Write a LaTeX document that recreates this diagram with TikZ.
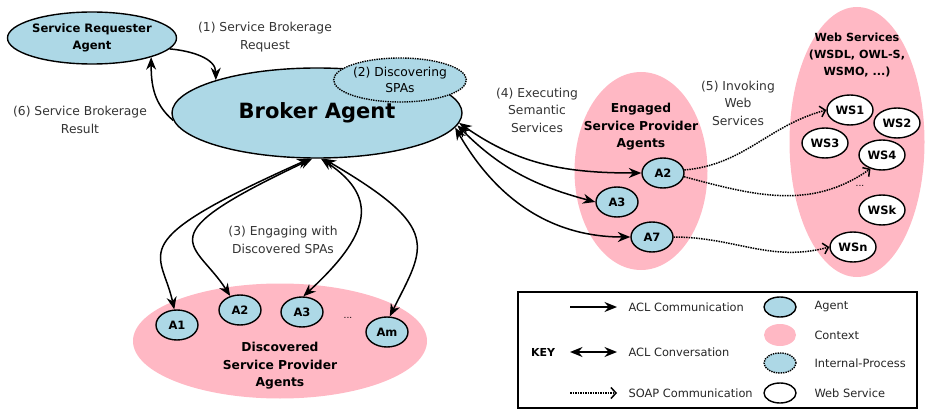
\documentclass[tikz,border=0pt]{standalone}
\usepackage{fontspec}
\setmainfont{DejaVu Sans}
\usetikzlibrary{shapes.geometric, arrows.meta}

\definecolor{agentblue}{RGB}{173,216,230}
\definecolor{ctxpink}{RGB}{255,184,196}

\tikzset{
  agent/.style={ellipse, draw, line width=1.4pt, fill=agentblue, inner sep=0pt,
    minimum width=42pt, minimum height=30pt, font=\bfseries\fontsize{11.5}{13}\selectfont},
  ws/.style={ellipse, draw, line width=1.4pt, fill=white, inner sep=0pt,
    minimum width=46pt, minimum height=30pt, font=\bfseries\fontsize{11.5}{13}\selectfont},
  context/.style={ellipse, fill=ctxpink, inner sep=0pt},
  ctxtext/.style={align=center, font=\bfseries\fontsize{12.3}{17.5}\selectfont},
  steplabel/.style={align=center, text=black!80, font=\fontsize{12.3}{17.5}\selectfont},
  keytext/.style={anchor=west, text=black!85, font=\fontsize{11.4}{13}\selectfont},
  acl/.style={-{Stealth[length=12.5pt,width=10pt]}, line width=1.5pt},
  aclconv/.style={{Stealth[length=12.5pt,width=10pt]}-{Stealth[length=12.5pt,width=10pt]}, line width=1.5pt},
  soap/.style={-{Straight Barb[length=5pt,width=11pt]}, line width=1.5pt, densely dotted},
}

\begin{document}
\begin{tikzpicture}[x=1pt, y=1pt]
  \useasboundingbox (0,0) rectangle (927,-409);

  % Context regions
  \node[context, minimum width=294pt, minimum height=115pt] (ctxD) at (280,-341) {};
  \node[context, minimum width=133pt, minimum height=198pt] (ctxE) at (641,-171) {};
  \node[context, minimum width=135pt, minimum height=270pt] (ctxW) at (857,-142) {};
  \node[ctxtext] (txtD) at (280,-366) {Discovered\\Service Provider\\Agents};
  \node[ctxtext] (txtE) at (641,-127) {Engaged\\Service Provider\\Agents};
  \node[ctxtext, font=\bfseries\fontsize{11.2}{17}\selectfont] (txtW) at (857,-55) {Web Services\\(WSDL, OWL-S,\\WSMO, ...)};

  % Requester and broker
  \node[ellipse, draw, line width=1.4pt, fill=agentblue, minimum width=165pt, minimum height=52pt,
    align=center, inner sep=0pt, font=\bfseries\fontsize{11.6}{17}\selectfont] (req) at (92,-38) {Service Requester\\Agent};
  \node[ellipse, draw, line width=1.4pt, fill=agentblue, minimum width=290pt, minimum height=90pt,
    inner sep=0pt, font=\bfseries\fontsize{21}{24}\selectfont] (broker) at (317,-113) {Broker Agent};
  \node[ellipse, draw, line width=1.4pt, densely dotted, fill=agentblue, minimum width=110pt, minimum height=44pt,
    align=center, inner sep=0pt, font=\fontsize{12.3}{16}\selectfont] (disc) at (400,-80) {(2) Discovering\\SPAs};

  % Discovered agents
  \node[agent] (dA1) at (177,-325) {A1};
  \node[agent] (dA2) at (240,-310) {A2};
  \node[agent] (dA3) at (302,-312) {A3};
  \node[agent] (dAm) at (387,-332) {Am};
  \node[font=\fontsize{9}{10}\selectfont] (dDots) at (348,-318) {...};

  % Engaged agents
  \node[agent] (eA2) at (663,-173) {A2};
  \node[agent] (eA3) at (617,-202) {A3};
  \node[agent] (eA7) at (652,-237) {A7};

  % Web services
  \node[ws] (ws1) at (850,-110) {WS1};
  \node[ws] (ws2) at (897,-123) {WS2};
  \node[ws] (ws3) at (825,-143) {WS3};
  \node[ws] (ws4) at (882,-155) {WS4};
  \node[font=\fontsize{9}{10}\selectfont] (wsDots) at (860,-186) {...};
  \node[ws] (wsk) at (882,-210) {WSk};
  \node[ws] (wsn) at (853,-247) {WSn};

  % Step labels
  \node[steplabel] (lbl1) at (265,-37) {(1) Service Brokerage\\Request};
  \node[steplabel] (lbl6) at (80,-120) {(6) Service Brokerage\\Result};
  \node[steplabel] (lbl3) at (283,-240) {(3) Engaging with\\Discovered SPAs};
  \node[steplabel] (lbl4) at (537,-110) {(4) Executing\\Semantic\\Services};
  \node[steplabel] (lbl5) at (738,-103) {(5) Invoking\\Web\\Services};

  % Request and result
  \draw[acl] (req.-8) to[out=-5, in=90] (broker.162);
  \draw[acl] (broker.183) to[out=140, in=-90] (req.-18);

  % Engaging discovered SPAs
  \draw[aclconv] (broker.-99) .. controls +(-190,-85) and +(-13,60) .. (dA1.100);
  \draw[aclconv] (broker.-96) .. controls +(-170,-80) and +(-35,55) .. (dA2.125);
  \draw[aclconv] (broker.-85) .. controls +(60,-40) and +(65,60) .. (dA3.85);
  \draw[aclconv] (broker.-82) .. controls +(120,-70) and +(35,70) .. (dAm.80);

  % Executing semantic services
  \draw[aclconv] (broker.-4) to[out=-35, in=180] (eA2.west);
  \draw[aclconv] (broker.-5) to[out=-45, in=165] (eA3.west);
  \draw[aclconv] (broker.-6) to[out=-60, in=180] (eA7.west);

  % Invoking web services
  \draw[soap] (eA2.8) to[out=5, in=195] (ws1.west);
  \draw[soap] (eA2.-10) to[out=-15, in=215] (ws4.-130);
  \draw[soap] (eA7.east) to[out=0, in=195] (wsn.west);

  % Key
  \draw[line width=1.2pt] (518,-292) rectangle (917,-408);
  \node[font=\bfseries\fontsize{11}{12}\selectfont] (key) at (543,-352) {KEY};
  \coordinate (k1a) at (570,-307); \coordinate (k1b) at (617,-307);
  \coordinate (k2a) at (570,-352); \coordinate (k2b) at (617,-352);
  \coordinate (k3a) at (570,-393); \coordinate (k3b) at (617,-393);
  \draw[acl] (k1a) -- (k1b);
  \draw[aclconv] (k2a) -- (k2b);
  \draw[soap] (k3a) -- (k3b);
  \node[keytext] (kt1) at (625,-307) {ACL Communication};
  \node[keytext] (kt2) at (625,-352) {ACL Conversation};
  \node[keytext] (kt3) at (625,-393) {SOAP Communication};
  \node[ellipse, draw, line width=1.4pt, fill=agentblue, minimum width=32pt, minimum height=20pt] (kAgent) at (780,-307) {};
  \node[ellipse, fill=ctxpink, minimum width=32pt, minimum height=22pt] (kCtx) at (780,-335) {};
  \node[ellipse, draw, line width=1.4pt, densely dotted, fill=agentblue, minimum width=32pt, minimum height=20pt] (kProc) at (780,-363) {};
  \node[ellipse, draw, line width=1.4pt, fill=white, minimum width=32pt, minimum height=20pt] (kWs) at (780,-393) {};
  \node[keytext] (kt4) at (811,-307) {Agent};
  \node[keytext] (kt5) at (811,-335) {Context};
  \node[keytext] (kt6) at (811,-363) {Internal-Process};
  \node[keytext] (kt7) at (811,-393) {Web Service};
\end{tikzpicture}
\end{document}
